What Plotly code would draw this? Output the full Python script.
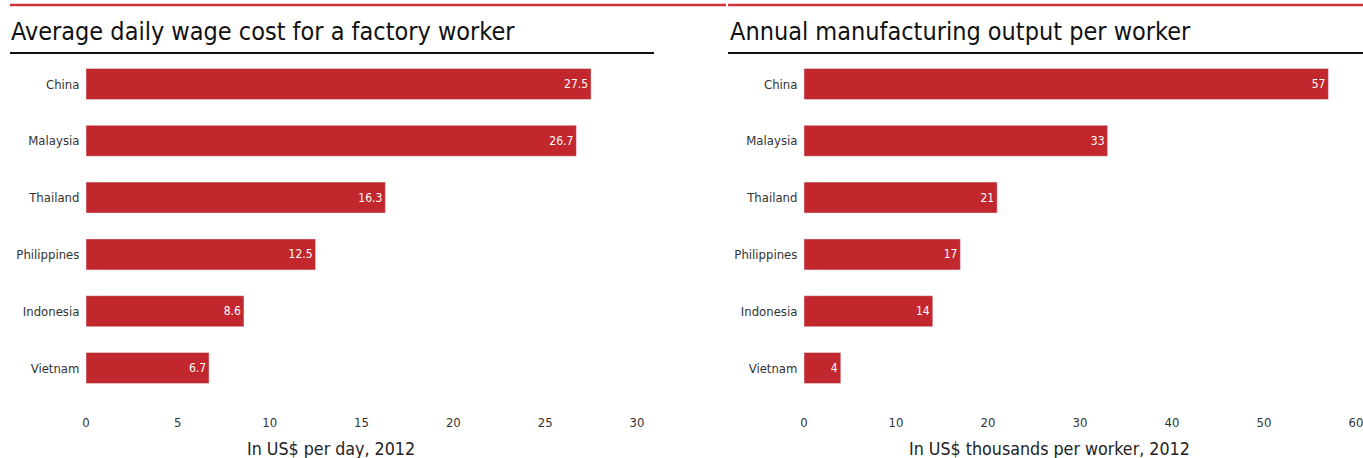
import plotly.graph_objects as go

countries = ["China", "Malaysia", "Thailand", "Philippines", "Indonesia", "Vietnam"]
wage = [27.5, 26.7, 16.3, 12.5, 8.6, 6.7]
output = [57, 33, 21, 17, 14, 4]
wage_labels = ["27.5", "26.7", "16.3", "12.5", "8.6", "6.7"]
output_labels = ["57", "33", "21", "17", "14", "4"]
wage_ticks = [0, 5, 10, 15, 20, 25, 30]
output_ticks = [0, 10, 20, 30, 40, 50, 60]

W, H = 1363, 458
RED = "#c1272d"
FONT = "Liberation Sans Narrow, DejaVu Sans Condensed, Roboto, sans-serif"

fig = go.Figure()
fig.add_trace(go.Bar(
    y=countries, x=wage, orientation="h", marker_color=RED,
    text=wage_labels, textposition="inside", insidetextanchor="end",
    textfont=dict(color="white", size=12, family=FONT),
    xaxis="x", yaxis="y", width=0.545, cliponaxis=False,
))
fig.add_trace(go.Bar(
    y=countries, x=output, orientation="h", marker_color=RED,
    text=output_labels, textposition="inside", insidetextanchor="end",
    textfont=dict(color="white", size=12, family=FONT),
    xaxis="x2", yaxis="y2", width=0.545, cliponaxis=False,
))

ytop = 1 - 55.6 / H
ybot = 1 - 396.4 / H

common_x = dict(showgrid=False, zeroline=False, showline=False, automargin=False,
                ticklabeloverflow="allow",
                ticks="outside", ticklen=14, tickcolor="rgba(0,0,0,0)",
                tickfont=dict(size=13, color="#333", family=FONT))
common_y = dict(showgrid=False, zeroline=False, showline=False, automargin=False,
                ticklabeloverflow="allow",
                autorange="reversed", ticks="outside", ticklen=3,
                tickcolor="rgba(0,0,0,0)",
                tickfont=dict(size=13, color="#333", family=FONT),
                domain=[ybot, ytop])

fig.update_layout(
    width=W, height=H, margin=dict(l=0, r=0, t=0, b=0, autoexpand=False),
    paper_bgcolor="white", plot_bgcolor="white", showlegend=False,
    font=dict(family=FONT),
    xaxis=dict(domain=[86 / W, 637 / W], range=[0, 30], tickvals=wage_ticks,
               anchor="y", **common_x),
    yaxis=dict(anchor="x", **common_y),
    xaxis2=dict(domain=[804 / W, 1356 / W], range=[0, 60], tickvals=output_ticks,
                anchor="y2", **common_x),
    yaxis2=dict(anchor="x2", **common_y),
)

annotations = [
    dict(text="Average daily wage cost for a factory worker", x=9 / W, y=1 - 32 / H,
         xanchor="left", yanchor="middle", font=dict(size=25, color="#111", family=FONT)),
    dict(text="Annual manufacturing output per worker", x=728 / W, y=1 - 32 / H,
         xanchor="left", yanchor="middle", font=dict(size=25, color="#111", family=FONT)),
    dict(text="In US$ per day, 2012", x=331 / W, y=1 - 449 / H,
         xanchor="center", yanchor="middle", font=dict(size=17.7, color="#222", family=FONT)),
    dict(text="In US$ thousands per worker, 2012", x=1049 / W, y=1 - 449 / H,
         xanchor="center", yanchor="middle", font=dict(size=17.7, color="#222", family=FONT)),
]
for a in annotations:
    a.update(xref="paper", yref="paper", showarrow=False)
fig.update_layout(annotations=annotations)

shapes = [
    dict(type="line", x0=10 / W, x1=726 / W, y0=1 - 5 / H, y1=1 - 5 / H,
         line=dict(color="#d0333b", width=2.5)),
    dict(type="line", x0=728 / W, x1=1, y0=1 - 5 / H, y1=1 - 5 / H,
         line=dict(color="#d0333b", width=2.5)),
    dict(type="line", x0=10 / W, x1=654 / W, y0=1 - 53 / H, y1=1 - 53 / H,
         line=dict(color="#111", width=2)),
    dict(type="line", x0=728 / W, x1=1, y0=1 - 53 / H, y1=1 - 53 / H,
         line=dict(color="#111", width=2)),
]
for s in shapes:
    s.update(xref="paper", yref="paper")
fig.update_layout(shapes=shapes)

fig.write_html("out.html", config={"displayModeBar": False},
               post_script="document.body.style.margin='0';document.body.style.overflow='hidden';")
